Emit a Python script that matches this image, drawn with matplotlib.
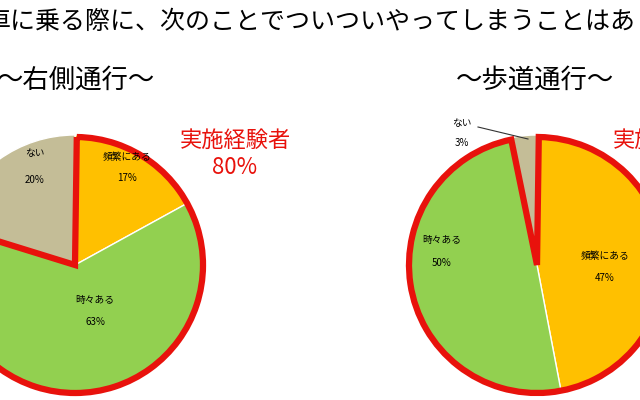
import matplotlib
matplotlib.use("Agg")
import matplotlib.pyplot as plt
from matplotlib.patches import Wedge
import numpy as np

plt.rcParams['font.family'] = ['Noto Sans CJK JP', 'DejaVu Sans']

categories = ["頻繁にある", "時々ある", "ない"]
left_values = [17, 63, 20]
right_values = [47, 50, 3]
colors = ["#FFC000", "#92D050", "#C4BD97"]
red = "#E8120C"

fig = plt.figure(figsize=(6.4, 4.0), dpi=100)
ax = fig.add_axes([0, 0, 1, 1])
ax.set_xlim(0, 640)
ax.set_ylim(400, 0)
ax.set_aspect('equal')
ax.axis('off')

def draw_pie(cx, cy, r, values):
    start = -90.0
    bounds = []
    for v, c in zip(values, colors):
        end = start + v * 3.6
        ax.add_patch(Wedge((cx, cy), r, start, end, facecolor=c, edgecolor='white', lw=1))
        bounds.append((start, end))
        start = end
    ax.add_patch(Wedge((cx, cy), r - 2, bounds[0][0] + 0.8, bounds[1][1] - 0.8,
                       facecolor='none', edgecolor=red, lw=4.5, joinstyle='miter'))

draw_pie(75, 265, 130, left_values)
draw_pie(537, 265, 130, right_values)

ax.text(-14, 22, "車に乗る際に、次のことでついついやってしまうことはあ", fontsize=18, va='center', ha='left')
ax.text(76, 80, "～右側通行～", fontsize=19, va='center', ha='center')
ax.text(535, 80, "～歩道通行～", fontsize=19, va='center', ha='center')
ax.text(235, 140, "実施経験者", fontsize=16, color=red, va='center', ha='center')
ax.text(235, 168, "80%", fontsize=16, color=red, va='center', ha='center')
ax.text(613, 140, "実施経験者", fontsize=16, color=red, va='center', ha='left')

fs = 7
ax.text(35, 153, "ない", fontsize=fs, ha='center', va='center')
ax.text(35, 180, "20%", fontsize=fs, ha='center', va='center')
ax.text(127, 157, categories[0], fontsize=fs, ha='center', va='center')
ax.text(127, 178, "17%", fontsize=fs, ha='center', va='center')
ax.text(95, 300, categories[1], fontsize=fs, ha='center', va='center')
ax.text(95, 322, "63%", fontsize=fs, ha='center', va='center')

ax.text(442, 240, categories[1], fontsize=fs, ha='center', va='center')
ax.text(442, 263, "50%", fontsize=fs, ha='center', va='center')
ax.text(605, 256, categories[0], fontsize=fs, ha='center', va='center')
ax.text(605, 278, "47%", fontsize=fs, ha='center', va='center')
ax.text(462, 123, "ない", fontsize=fs, ha='center', va='center')
ax.text(462, 143, "3%", fontsize=fs, ha='center', va='center')
ax.plot([478, 528], [127, 139], color='#333333', lw=0.8)

fig.savefig("out.png", dpi=100)
